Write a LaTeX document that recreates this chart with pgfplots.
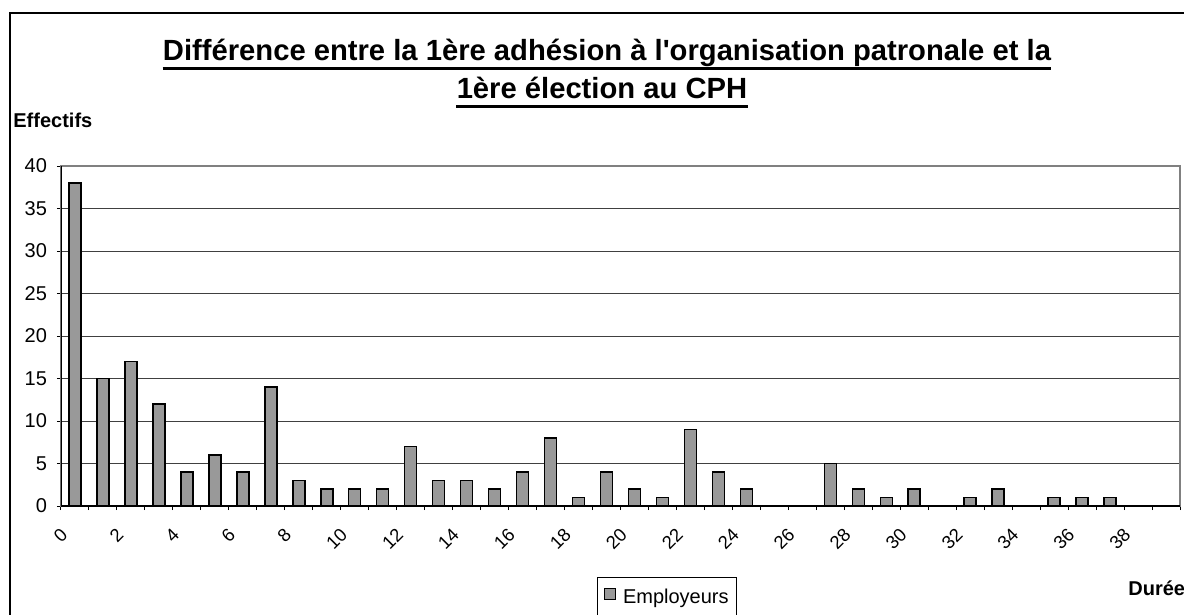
\documentclass[border=0pt]{standalone}
\usepackage{fontspec}
\setmainfont{Liberation Sans}
\newfontfamily\plainarial{Liberation Sans}
\usepackage{pgfplots}
\pgfplotsset{compat=1.18}
\begin{document}
\begin{tikzpicture}
\useasboundingbox (0,0) rectangle (592pt,-307.5pt);
% outer chart border (left and top visible)
\draw[line width=1.25pt] (5pt,-320pt) -- (5pt,-6.5pt) -- (600pt,-6.5pt);
% title
\node[anchor=base, inner sep=0pt, font=\plainarial\bfseries\fontsize{14.6}{16}\selectfont] (t1) at (303.5pt,-30.5pt) {Différence entre la 1ère adhésion à l'organisation patronale et la\ };
\draw[line width=1.5pt] ([yshift=-4pt]t1.base west) -- ([yshift=-4pt]t1.base east);
\node[anchor=base, inner sep=0pt, font=\plainarial\bfseries\fontsize{14.6}{16}\selectfont] (t2) at (301pt,-49.5pt) {1ère élection au CPH};
\draw[line width=1.5pt] ([yshift=-4pt]t2.base west) -- ([yshift=-4pt]t2.base east);
% axis titles
\node[anchor=base west, inner sep=0pt, font=\bfseries\fontsize{10}{12}\selectfont] at (6.5pt,-64pt) {Effectifs};
\node[anchor=base west, inner sep=0pt, font=\bfseries\fontsize{10}{12}\selectfont] at (564pt,-297.5pt) {Durée};
\begin{axis}[
  at={(30.5pt,-253pt)}, anchor=south west,
  scale only axis, width=559.5pt, height=170pt,
  xmin=-0.5, xmax=39.5, ymin=0, ymax=40,
  ytick={0,5,...,40},
  xtick={-0.33,1.67,...,37.7},
  xticklabels={0,2,4,6,8,10,12,14,16,18,20,22,24,26,28,30,32,34,36,38},
  minor xtick={-0.5,0.5,...,39.6},
  major x tick style={draw=none},
  tick align=outside,
  minor tick length=2pt,
  major tick length=2pt,
  xtick pos=bottom, ytick pos=left,
  tick style={black, line width=0.5pt},
  ymajorgrids, major grid style={black!75, line width=0.5pt},
  axis line style={draw=black!50, line width=0.6pt},
  /pgf/number format/assume math mode=true,
  tick label style={font=\fontsize{10}{11}\selectfont},
  xticklabel style={rotate=45, anchor=east, font=\fontsize{9.2}{10}\selectfont, inner sep=1pt},
  xticklabel shift=10pt,
  yticklabel style={xshift=-1.5pt},
  ybar, bar width=6pt,
  legend style={at={(0.479,-0.209)}, anchor=north west, draw=black, line width=0.5pt,
    font=\fontsize{10}{11}\selectfont, inner xsep=2pt, inner ysep=3.5pt},
  legend image code/.code={\draw[#1, line width=0.6pt] (1pt,-1.2pt) rectangle (6.5pt,4.4pt); \path (0pt,0pt) (8pt,0pt);},
]
\addplot[fill=black!40, draw=black, line width=0.75pt] coordinates {
(0,38) (1,15) (2,17) (3,12) (4,4) (5,6) (6,4) (7,14) (8,3) (9,2)
(10,2) (11,2) (12,7) (13,3) (14,3) (15,2) (16,4) (17,8) (18,1) (19,4)
(20,2) (21,1) (22,9) (23,4) (24,2) (25,0) (26,0) (27,5) (28,2) (29,1)
(30,2) (31,0) (32,1) (33,2) (34,0) (35,1) (36,1) (37,1) (38,0) (39,0)
};
\addlegendentry{Employeurs}
\draw[black, line width=0.6pt] (rel axis cs:0,0) -- (rel axis cs:0,1);
\draw[black, line width=0.6pt] (rel axis cs:0,0) -- (rel axis cs:1,0);
\end{axis}
\end{tikzpicture}
\end{document}
